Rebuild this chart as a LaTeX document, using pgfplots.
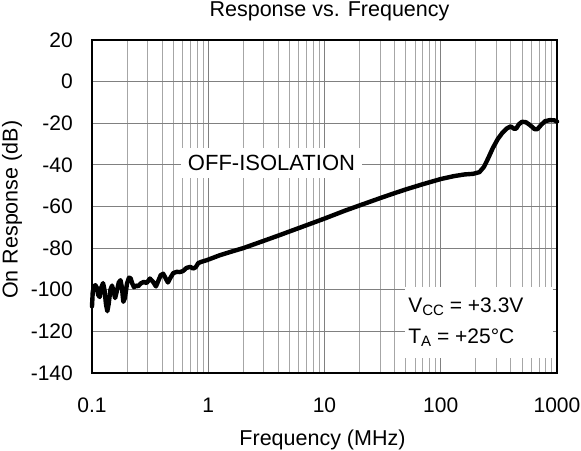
\documentclass[border=0pt]{standalone}
\usepackage{pgfplots}
\pgfplotsset{compat=1.18}
\usepackage{fontspec}
\setmainfont{Liberation Sans}
\begin{document}
\begin{tikzpicture}
\useasboundingbox (-92pt,-77pt) rectangle (489pt,373pt);
\begin{axis}[
  at={(0pt,0pt)}, anchor=south west,
  scale only axis, width=465pt, height=333pt,
  xmode=log, xmin=0.1, xmax=1000, ymin=-140, ymax=20,
  xtick={0.1,1,10,100,1000},
  xticklabels={0.1,1,10,100,1000},
  minor xtick={0.2,0.3,0.4,0.5,0.6,0.7,0.8,0.9,2,3,4,5,6,7,8,9,20,30,40,50,60,70,80,90,200,300,400,500,600,700,800,900},
  ytick={-140,-120,-100,-80,-60,-40,-20,0,20},
  yticklabels={-140,-120,-100,-80,-60,-40,-20,0,20},
  major tick length=0pt, minor tick length=0pt,
  xmajorgrids, xminorgrids, ymajorgrids,
  major grid style={black!50, line width=0.8pt},
  minor grid style={black!35, line width=0.8pt},
  axis line style={black, line width=1.6pt},
  font=\fontsize{21}{25}\selectfont,
  xticklabel style={anchor=base, yshift=-39pt, font=\fontsize{21}{25}\selectfont},
  yticklabel style={anchor=east, inner sep=0pt, xshift=-19pt, font=\fontsize{21}{25}\selectfont},
  title={Response vs. Frequency},
  every axis title/.style={at={(axis description cs:0.5,1)}, anchor=base, yshift=23pt, xshift=5pt, font=\fontsize{21.5}{25}\selectfont},
  xlabel={Frequency (MHz)},
  every axis x label/.style={at={(axis description cs:0.5,0)}, anchor=base, yshift=-72pt, xshift=-2pt, font=\fontsize{21.5}{25}\selectfont},
  ylabel={On Response (dB)},
  every axis y label/.style={at={(axis description cs:-0.172,0.49)}, anchor=center, rotate=90, font=\fontsize{21.5}{25}\selectfont},
  clip=false,
]
\fill[white] (rel axis cs:0.673,0.045) rectangle (rel axis cs:0.991,0.258);
\addplot[black, line width=4.4pt, line join=round, line cap=round] coordinates {
(0.100,-108) (0.1015,-101) (0.104,-98.5) (0.107,-97.8) (0.110,-99) (0.113,-102.5)
(0.1165,-103.5) (0.120,-99) (0.1245,-96.8) (0.128,-100) (0.132,-107) (0.1355,-110.3)
(0.139,-107) (0.144,-100) (0.1487,-98) (0.153,-100.5) (0.158,-104) (0.163,-101)
(0.170,-96.5) (0.176,-95.4) (0.181,-99) (0.186,-105.8) (0.192,-104) (0.200,-97)
(0.208,-94.2) (0.215,-94.5) (0.222,-97) (0.230,-98.8) (0.240,-98) (0.250,-98.3)
(0.262,-97) (0.280,-96.2) (0.295,-96.8) (0.315,-94.6) (0.335,-96.2) (0.355,-98.4)
(0.37,-96) (0.39,-93) (0.41,-92.3) (0.43,-94.5) (0.45,-96.5) (0.47,-94.5)
(0.50,-92) (0.535,-91.4) (0.57,-91.5) (0.607,-91) (0.65,-89.5) (0.70,-89)
(0.74,-89.8) (0.78,-89.2) (0.82,-87.2) (0.87,-86.6) (0.97,-85.8) (1.26,-83.4)
(1.6,-81.6) (2,-80) (3,-76.5) (4,-74) (5,-72) (7,-69) (10,-65.8) (15,-62)
(20,-59.5) (30,-56) (40,-53.6) (50,-51.8) (70,-49.3) (100,-46.8) (130,-45.4)
(160,-44.6) (190,-44.3) (215,-43.5) (235,-41) (255,-37) (280,-32) (310,-27.5)
(340,-24.5) (370,-22.5) (400,-21.5) (425,-22.6) (445,-22.6) (470,-20.5)
(500,-19.3) (540,-19.5) (590,-21) (640,-22.8) (680,-22.8) (730,-20.8)
(790,-19) (870,-18.5) (950,-18.6) (1000,-19.2)
};
\node[anchor=base, fill=white, inner sep=7pt, font=\fontsize{22}{26}\selectfont] at (axis cs:3.5,-42.8) {OFF-ISOLATION};
\node[anchor=base west, inner sep=0pt, font=\fontsize{21}{25}\selectfont] at (rel axis cs:0.680,0.183) {V\raisebox{-0.28ex}{\fontsize{15}{15}\selectfont CC} = +3.3V};
\node[anchor=base west, inner sep=0pt, font=\fontsize{21}{25}\selectfont] at (rel axis cs:0.680,0.090) {T\raisebox{-0.28ex}{\fontsize{15}{15}\selectfont A} = +25°C};
\end{axis}
\end{tikzpicture}
\end{document}
